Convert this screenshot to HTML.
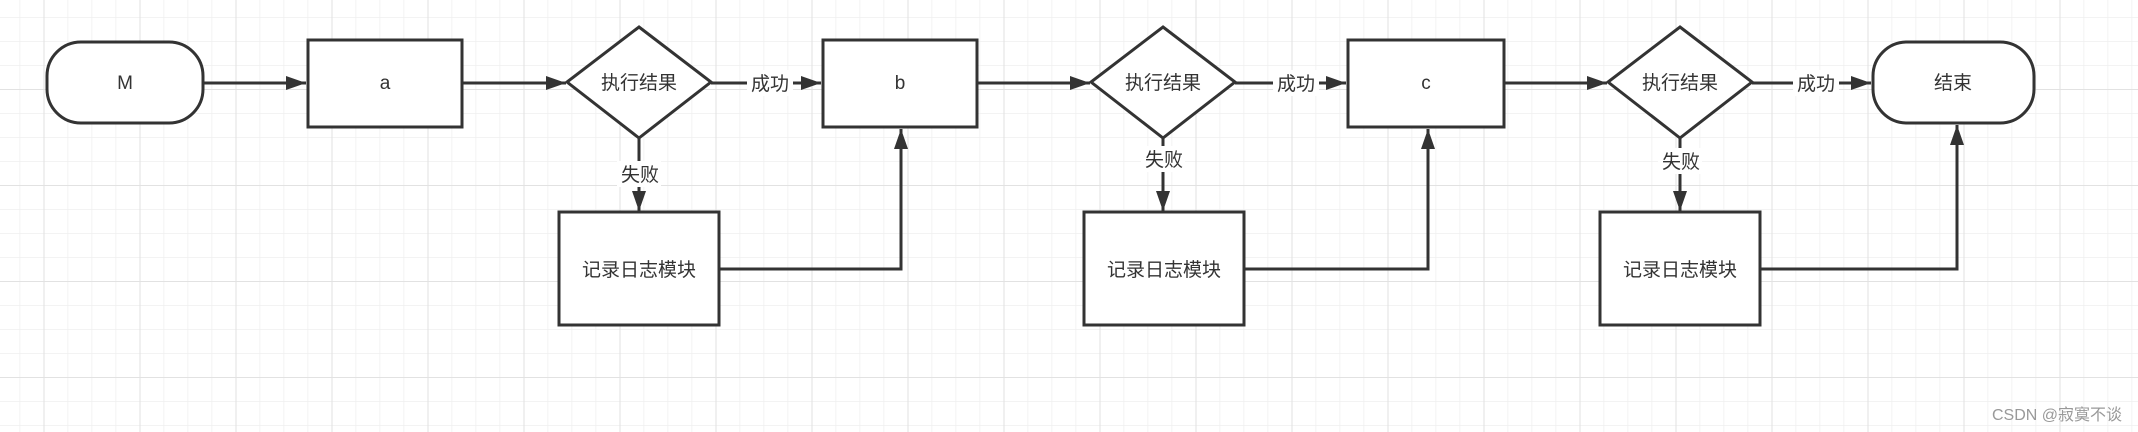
<!DOCTYPE html>
<html><head><meta charset="utf-8"><style>
html,body{margin:0;padding:0;background:#fff;}
svg{display:block;}
text{font-family:"Liberation Sans","Noto Sans CJK SC",sans-serif;fill:#333;}
</style></head><body>
<svg width="2138" height="432" viewBox="0 0 2138 432" xmlns="http://www.w3.org/2000/svg">
<defs>
<pattern id="minor" x="19.5" y="17" width="24" height="24" patternUnits="userSpaceOnUse">
<path d="M0 0V24M0 0H24" stroke="#efefef" stroke-width="1.5" fill="none"/>
</pattern>
<pattern id="major" x="43.5" y="89" width="96" height="96" patternUnits="userSpaceOnUse">
<path d="M0 0V96M0 0H96" stroke="#e2e2e2" stroke-width="2" fill="none"/>
</pattern>
<marker id="ar" markerWidth="12" markerHeight="10" refX="11" refY="5" orient="auto" markerUnits="userSpaceOnUse" viewBox="0 0 12 10">
<path d="M0 0L12 5L0 10Z" fill="#333"/>
</marker>
<marker id="ar2" markerWidth="20" markerHeight="14" refX="20" refY="7" orient="auto" markerUnits="userSpaceOnUse" viewBox="0 0 20 14">
<path d="M0 0L20 7L0 14Z" fill="#333"/>
</marker>
</defs>
<rect width="2138" height="432" fill="#fff"/>
<rect width="2138" height="432" fill="url(#minor)"/>
<rect width="2138" height="432" fill="url(#major)"/>

<g stroke="#333" stroke-width="3" fill="#fff">
<rect x="47" y="42" width="156" height="81" rx="34" ry="34"/>
<rect x="308" y="40" width="154" height="87"/>
<path d="M639 27L711 82L639 138L567 82Z"/>
<rect x="559" y="212" width="160" height="113"/>
<rect x="823" y="40" width="154" height="87"/>
<path d="M1163 27L1235 82L1163 138L1091 82Z"/>
<rect x="1084" y="212" width="160" height="113"/>
<rect x="1348" y="40" width="156" height="87"/>
<path d="M1680 27L1752 82L1680 138L1608 82Z"/>
<rect x="1600" y="212" width="160" height="113"/>
<rect x="1873" y="42" width="161" height="81" rx="34" ry="34"/>
</g>

<g stroke="#333" stroke-width="3" fill="none">
<path d="M203 83H306" marker-end="url(#ar2)"/>
<path d="M462 83H566" marker-end="url(#ar2)"/>
<path d="M711 83H821" marker-end="url(#ar2)"/>
<path d="M977 83H1090" marker-end="url(#ar2)"/>
<path d="M1235 83H1346" marker-end="url(#ar2)"/>
<path d="M1504 83H1607" marker-end="url(#ar2)"/>
<path d="M1752 83H1871" marker-end="url(#ar2)"/>
<path d="M639 138V211" marker-end="url(#ar2)"/>
<path d="M1163 138V211" marker-end="url(#ar2)"/>
<path d="M1680 138V211" marker-end="url(#ar2)"/>
<path d="M719 269H901V129" marker-end="url(#ar2)"/>
<path d="M1244 269H1428V129" marker-end="url(#ar2)"/>
<path d="M1760 269H1957V125" marker-end="url(#ar2)"/>
</g>

<g fill="#fff">
<rect x="747" y="70" width="46" height="26"/>
<rect x="1273" y="70" width="46" height="26"/>
<rect x="1793" y="70" width="46" height="26"/>
<rect x="617" y="161" width="44" height="26"/>
<rect x="1141" y="146" width="44" height="26"/>
<rect x="1658" y="148" width="44" height="26"/>
</g>

<g font-size="19" text-anchor="middle">
<text x="125" y="89">M</text>
<text x="385" y="89">a</text>
<text x="900" y="89">b</text>
<text x="1426" y="89">c</text>
<text x="1953" y="89">结束</text>
<text x="639" y="89">执行结果</text>
<text x="1163" y="89">执行结果</text>
<text x="1680" y="89">执行结果</text>
<text x="639" y="276">记录日志模块</text>
<text x="1164" y="276">记录日志模块</text>
<text x="1680" y="276">记录日志模块</text>
<text x="770" y="90">成功</text>
<text x="1296" y="90">成功</text>
<text x="1816" y="90">成功</text>
<text x="640" y="181">失败</text>
<text x="1164" y="166">失败</text>
<text x="1681" y="168">失败</text>
</g>
<text x="2122" y="420" font-size="16" text-anchor="end" style="fill:#999">CSDN @寂寞不谈</text>
</svg>
</body></html>
